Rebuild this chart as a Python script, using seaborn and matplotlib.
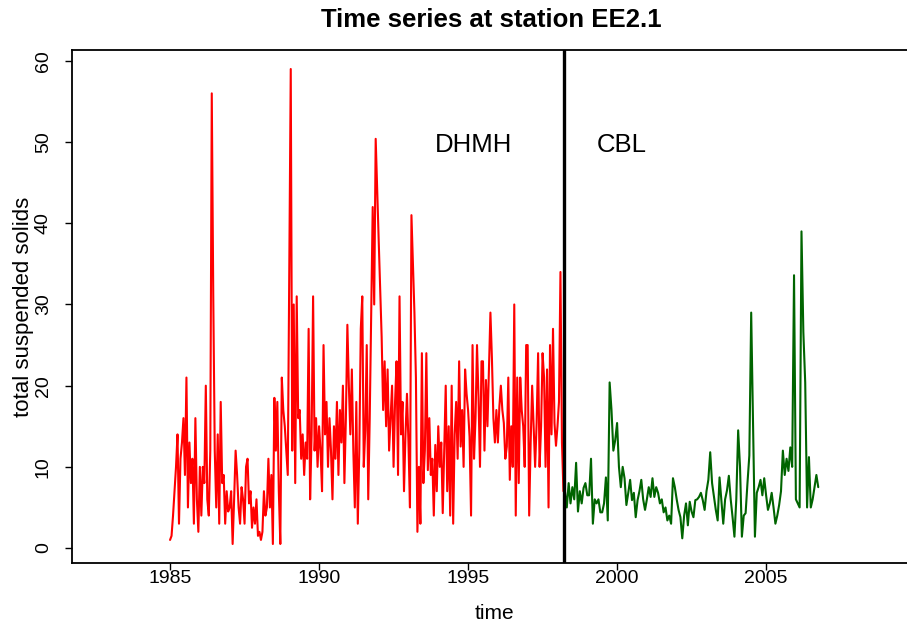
import numpy as np
import pandas as pd
import matplotlib
matplotlib.use("Agg")
import matplotlib.pyplot as plt
import seaborn as sns

# Total suspended solids at station EE2.1, DHMH programme (20 samples per year)
dhmh_1985 = [1, 1.5, 4, 7, 10, 14, 3, 11, 13, 16, 9, 21, 5, 13, 8, 11, 3, 16, 6, 2]
dhmh_1986 = [10, 4, 10, 8, 20, 6, 4, 12, 56, 31, 12, 5, 14, 3, 18, 8, 9, 3, 7, 4.5]
dhmh_1987 = [5, 7, 0.5, 6, 12, 9, 5, 3, 7.5, 6, 3, 10, 11, 5.5, 7, 2.5, 5, 3, 6, 1.5]
dhmh_1988 = [2, 1, 2, 7, 4, 5, 11, 5, 9, 0.5, 18.5, 12, 18, 7, 0.5, 21, 17, 15, 12, 9]
dhmh_1989 = [34.5, 59, 12, 30, 8, 31, 16, 17, 11, 14, 9, 13, 11, 27, 6, 14, 31, 12, 16, 10]
dhmh_1990 = [15, 12, 7, 25, 14, 18, 10, 16, 12, 6, 15, 11, 18, 9, 17, 13, 20, 8, 16, 27.5]
dhmh_1991 = [20, 14, 22, 12, 5, 18, 3, 12, 27, 31, 10, 14.5, 25, 6, 16, 29, 42, 30, 50.4, 44]
dhmh_1992 = [38, 32, 26, 17, 23, 15, 22, 12, 16, 20, 10, 18, 23, 9, 31, 14, 18, 7, 14, 19]
dhmh_1993 = [13, 5, 41, 35, 29, 21, 2, 10, 3, 24, 8, 12, 24, 9.6, 16, 9, 11, 4, 12.7, 7]
dhmh_1994 = [15, 10, 13, 4.3, 12, 20, 7, 15, 4, 20, 3, 14, 18, 11, 23, 12.5, 17, 10, 22, 19]
dhmh_1995 = [17, 13.7, 4, 25, 11, 16, 25, 18.6, 10, 23, 23, 12, 20.7, 15, 22, 29, 23.4, 16, 13, 17]
dhmh_1996 = [13, 17.4, 20, 17, 15.4, 11, 12.5, 21, 8.4, 15, 10, 30, 4, 21, 8, 21, 17, 15, 10, 25]
dhmh_1997 = [25, 4, 13, 20, 15, 10, 15.4, 24, 10, 15, 24, 21, 10, 22, 5, 25, 14, 27, 15.4, 12.6]
dhmh_1998 = [15, 18, 34, 13, 7]
dhmh_start, dhmh_rate = 1985.0, 20

# CBL programme (16 samples per year from mid-1998)
cbl_1998_2000 = [7, 5, 8, 5.5, 7.5, 6, 10.5, 4.5, 7, 5.5, 7.4, 8, 6.5, 6.5, 11, 3,
                 6, 5.5, 6, 4.4, 4.4, 5.5, 8.7, 3.4, 20.4, 17, 12, 13.3, 15.4, 10, 7.5, 10]
cbl_2000_2002 = [8.6, 5.3, 6.8, 8.4, 5.9, 6.8, 3.8, 5.9, 7, 8.4, 6, 4.7, 6, 7.5, 6.3, 8.6,
                 6.3, 7.5, 6.8, 5.5, 6, 4.4, 5, 3.4, 4, 3, 8.6, 7.5, 6, 4.7, 3.8, 1.2]
cbl_2002_2004 = [4, 5.5, 2.8, 5.7, 4.5, 3.8, 5.9, 6, 6.3, 6.8, 5.9, 4.7, 7, 8.4, 11.8, 8,
                 6.3, 4.7, 3.4, 8.7, 5.9, 3, 6, 7.1, 8.9, 6, 3.8, 1.4, 6, 14.5, 10, 1.4]
cbl_2004_2007 = [4, 4.3, 8, 11.4, 29, 15, 1.4, 6.8, 7.5, 8.4, 6.5, 8.6, 6.5, 4.7, 5.5, 6.8,
                 5, 3, 4, 5.3, 7, 12, 9, 11, 9.5, 12.4, 10, 33.6, 6, 5.5, 5, 39,
                 26.6, 20.4, 5, 11.2, 5, 6, 7.5, 9, 7.5]
cbl_start, cbl_rate = 1998.25, 16

switch_year = 1998.22
x_ticks = [1985, 1990, 1995, 2000, 2005]
y_ticks = [0, 10, 20, 30, 40, 50, 60]

dhmh_vals = (dhmh_1985 + dhmh_1986 + dhmh_1987 + dhmh_1988 + dhmh_1989 + dhmh_1990
             + dhmh_1991 + dhmh_1992 + dhmh_1993 + dhmh_1994 + dhmh_1995 + dhmh_1996
             + dhmh_1997 + dhmh_1998)
cbl_vals = cbl_1998_2000 + cbl_2000_2002 + cbl_2002_2004 + cbl_2004_2007

dhmh = pd.DataFrame({"time": dhmh_start + np.arange(len(dhmh_vals)) / dhmh_rate,
                     "tss": dhmh_vals})
cbl = pd.DataFrame({"time": cbl_start + np.arange(len(cbl_vals)) / cbl_rate,
                    "tss": cbl_vals})

sns.set_style("white")
plt.rcParams["font.family"] = ["Liberation Sans", "DejaVu Sans"]
plt.rcParams["text.color"] = "black"
plt.rcParams["axes.labelcolor"] = "black"

W, H = 907, 628
fig = plt.figure(figsize=(W / 100, H / 100), dpi=100)
left, right, top, bottom = 72, 916, 50, 563
ax = fig.add_axes([left / W, 1 - bottom / H, (right - left) / W, (bottom - top) / H])

sns.lineplot(data=dhmh, x="time", y="tss", color="#ff0000", linewidth=1.5,
             estimator=None, sort=False, ax=ax)
sns.lineplot(data=cbl, x="time", y="tss", color="#006400", linewidth=1.5,
             estimator=None, sort=False, ax=ax)
ax.axvline(switch_year, color="black", linewidth=2.4)

ax.set_xlim(1981.71, 2010.03)
ax.set_ylim(-1.84, 61.34)

ax.set_xticks(x_ticks)
ax.set_xticklabels([str(t) for t in x_ticks], fontsize=14)
ax.set_yticks(y_ticks)
ax.set_yticklabels([str(t) for t in y_ticks], fontsize=14, rotation=90, va="center")
ax.tick_params(axis="both", direction="out", length=5, width=1.0, color="black",
               labelcolor="black", bottom=True, left=True, top=False, right=False)
ax.tick_params(axis="x", pad=0)
ax.tick_params(axis="y", pad=9.5)

for s in ax.spines.values():
    s.set_color("black")
    s.set_linewidth(1.3)
    s.set_visible(True)

ax.set_xlabel("time", fontsize=15, labelpad=12)
ax.set_ylabel("total suspended solids", fontsize=16, labelpad=0.5)

ax.text(1995.2, 49.6, "DHMH", fontsize=18.5, ha="center", va="center")
ax.text(2000.15, 49.6, "CBL", fontsize=18.5, ha="center", va="center")

fig.text(491 / W, 1 - 20 / H, "Time series at station EE2.1", fontsize=18.5,
         fontweight="bold", ha="center", va="center")

fig.savefig("out.png", dpi=100, facecolor="white")
